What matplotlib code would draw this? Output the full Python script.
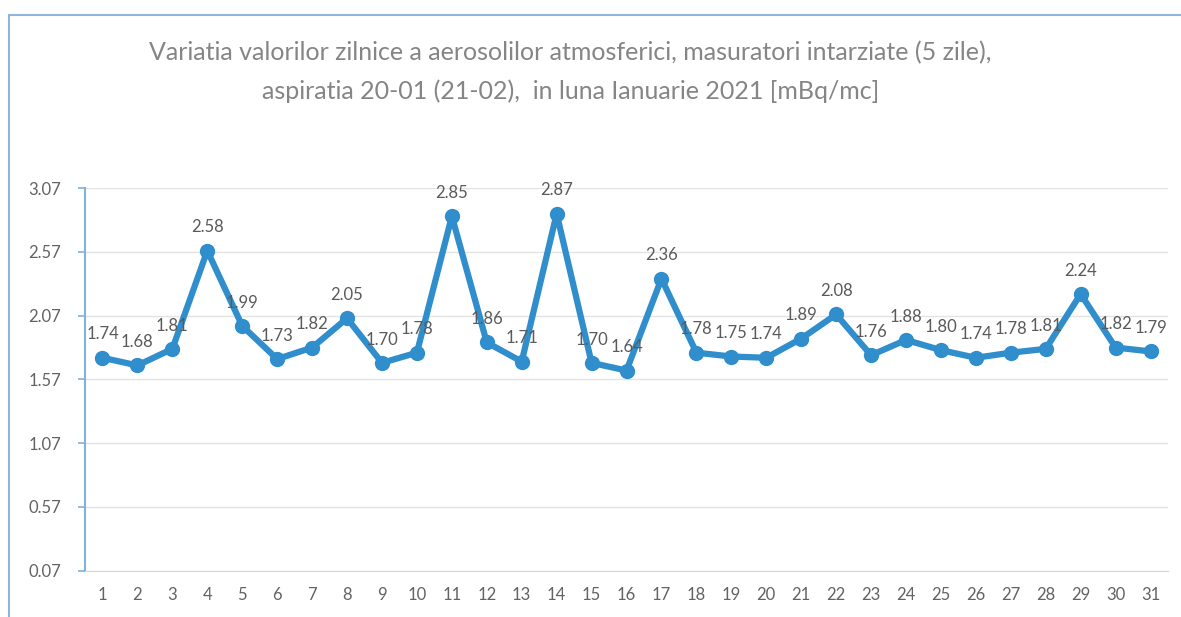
import matplotlib
matplotlib.use("Agg")
import matplotlib.pyplot as plt
from matplotlib.patches import Rectangle

plt.rcParams['font.family'] = ['Lato', 'DejaVu Sans']

days = list(range(1, 32))
values = [1.74, 1.68, 1.81, 2.58, 1.99, 1.73, 1.82, 2.05, 1.70, 1.78,
          2.85, 1.86, 1.71, 2.87, 1.70, 1.64, 2.36, 1.78, 1.75, 1.74,
          1.89, 2.08, 1.76, 1.88, 1.80, 1.74, 1.78, 1.81, 2.24, 1.82, 1.79]
yticks = [0.07, 0.57, 1.07, 1.57, 2.07, 2.57, 3.07]

title = ("Variatia valorilor zilnice a aerosolilor atmosferici, masuratori intarziate (5 zile),\n"
         "aspiratia 20-01 (21-02),  in luna Ianuarie 2021 [mBq/mc]")

line_color = "#2f8ecb"
text_color = "#636363"

fig = plt.figure(figsize=(11.81, 6.17), dpi=100)
ax = fig.add_axes([0.072, 0.075, 0.917, 0.62])

ax.plot(days, values, color=line_color, linewidth=4.5, marker="o",
        markersize=10, markerfacecolor=line_color, markeredgecolor=line_color,
        zorder=3)

for d, v in zip(days, values):
    ax.annotate("{:.2f}".format(v), (d, v), xytext=(0, 11),
                textcoords="offset points", ha="center", va="bottom",
                fontsize=12, color="#5a5a5a", annotation_clip=False)

ax.set_xlim(0.5, 31.5)
ax.set_ylim(0.07, 3.07)
ax.set_xticks(days)
ax.set_yticks(yticks)
ax.set_yticklabels(["{:.2f}".format(t) for t in yticks])
ax.tick_params(axis="x", length=0, labelsize=12, labelcolor=text_color, pad=12)
ax.tick_params(axis="y", length=5, width=1.2, color="#7fb2dd",
               labelsize=12, labelcolor=text_color, pad=12)

ax.grid(True, axis="y", color="#e3e3e3", linewidth=1)
ax.set_axisbelow(True)
for s in ["top", "right"]:
    ax.spines[s].set_visible(False)
ax.spines["left"].set_color("#7fb2dd")
ax.spines["left"].set_linewidth(1.5)
ax.spines["bottom"].set_color("#d9d9d9")

fig.text(0.483, 0.883, title, ha="center", va="center", fontsize=18,
         color="#858585", linespacing=1.8)

# chart frame
fig.patches.append(Rectangle((0.008, -0.05), 1.2, 1.025, transform=fig.transFigure,
                             fill=False, edgecolor="#8fb6d8", linewidth=1.5))

fig.savefig("out.png", dpi=100)
